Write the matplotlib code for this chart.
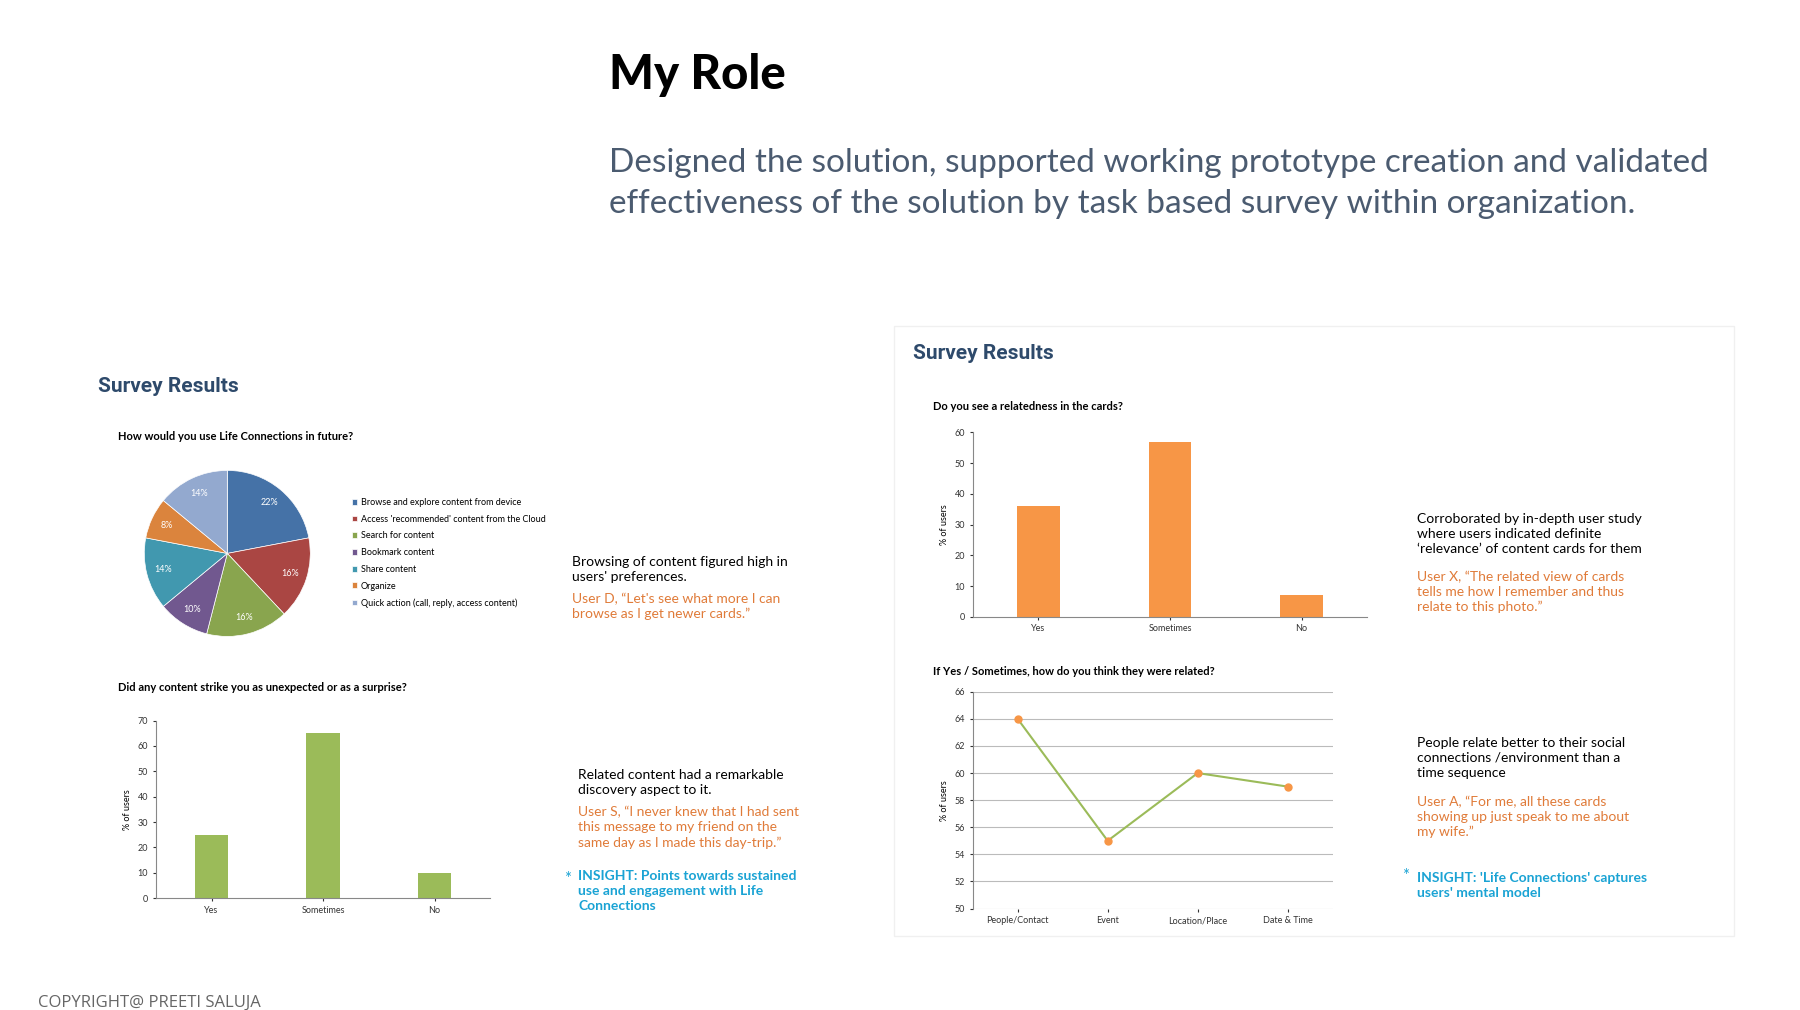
import matplotlib.pyplot as plt

W, H = 1560, 876  # reference layout units

pie_labels = ["Browse and explore content from device",
              "Access 'recommended' content from the Cloud",
              "Search for content", "Bookmark content", "Share content",
              "Organize", "Quick action (call, reply, access content)"]
pie_values = [22, 16, 16, 10, 14, 8, 14]
pie_colors = ["#4572a7", "#aa4643", "#89a54e", "#71588f", "#4198af", "#db843d", "#93a9cf"]

surprise_cats = ["Yes", "Sometimes", "No"]
surprise_vals = [25, 65, 10]

related_cats = ["Yes", "Sometimes", "No"]
related_vals = [36, 57, 7]

how_cats = ["People/Contact", "Event", "Location/Place", "Date & Time"]
how_vals = [64, 55, 60, 59]

plt.rcParams['font.family'] = ['Lato', 'DejaVu Sans']

fig = plt.figure(figsize=(18, 10.1), dpi=100)


def fx(x):
    return x / W


def fy(y):
    return 1 - y / H


def rect(x0, y0, x1, y1):
    return [fx(x0), fy(y1), fx(x1 - x0) , (y1 - y0) / H]


def txt(x, y, s, **kw):
    fig.text(fx(x), fy(y), s, **kw)


slate = "#4b5b70"
orange_t = "#e07b39"
cyan_t = "#1aa3d4"

txt(528, 65, "My Role", fontsize=34, fontweight='black', va='center')
txt(528, 141, "Designed the solution, supported working prototype creation and validated",
    fontsize=24, color=slate, va='center')
txt(528, 177, "effectiveness of the solution by task based survey within organization.",
    fontsize=24, color=slate, va='center')

# right panel faint frame
fig.patches.append(plt.Rectangle((fx(775), fy(812)), fx(728), 529 / H,
                                 transform=fig.transFigure, fill=False,
                                 edgecolor="#f0f0f0", lw=1))

txt(85, 335, "Survey Results", fontsize=15, fontweight='bold', color="#2e4a6b",
    va='center', family=['Roboto', 'DejaVu Sans'], fontstretch='condensed')
txt(791, 307, "Survey Results", fontsize=15, fontweight='bold', color="#2e4a6b",
    va='center', family=['Roboto', 'DejaVu Sans'])

# pie
txt(102, 379, "How would you use Life Connections in future?", fontsize=8, fontweight='bold', va='center')
ax = fig.add_axes(rect(105, 390, 289, 570))
wedges, _, autot = ax.pie(pie_values, colors=pie_colors, startangle=90, counterclock=False,
                          autopct='%d%%', pctdistance=0.8,
                          wedgeprops=dict(edgecolor='white', linewidth=0.5),
                          textprops=dict(color='white', fontsize=6.5))
ax.set_aspect('equal')
leg = fig.legend(wedges, pie_labels, loc='upper left', bbox_to_anchor=(fx(298), fy(425)),
                 frameon=False, fontsize=6.5, handlelength=0.6, handleheight=0.6,
                 handletextpad=0.4, labelspacing=0.85)

txt(496, 482, "Browsing of content figured high in\nusers' preferences.", fontsize=10, va='top', linespacing=1.3)
txt(496, 514, "User D, \u201cLet's see what more I can\nbrowse as I get newer cards.\u201d",
    fontsize=10, va='top', color=orange_t, linespacing=1.3)


def style(ax, ylab):
    for s in ['top', 'right']:
        ax.spines[s].set_visible(False)
    ax.spines['left'].set_color('#888888')
    ax.spines['bottom'].set_color('#888888')
    ax.tick_params(labelsize=6.5, length=2, colors='#333333')
    ax.set_ylabel(ylab, fontsize=6.5)


# surprise bars
txt(102, 596, "Did any content strike you as unexpected or as a surprise?", fontsize=8, fontweight='bold', va='center')
ax = fig.add_axes(rect(135, 625, 425, 779))
ax.bar(surprise_cats, surprise_vals, width=0.3, color="#9bbb59")
ax.set_ylim(0, 70)
ax.set_yticks(range(0, 71, 10))
ax.set_xlim(-0.5, 2.5)
style(ax, "% of users")

txt(501, 667, "Related content had a remarkable\ndiscovery aspect to it.", fontsize=10, va='top', linespacing=1.3)
txt(501, 699, "User S, \u201cI never knew that I had sent\nthis message to my friend on the\nsame day as I made this day-trip.\u201d",
    fontsize=10, va='top', color=orange_t, linespacing=1.3)
txt(489, 762, "*", fontsize=12, color=cyan_t, va='center')
txt(501, 762, "INSIGHT: Points towards sustained\nuse and engagement with Life\nConnections",
    fontsize=10, va='top', color=cyan_t, fontweight='bold', linespacing=1.3)
fig.texts[-1].set_y(fy(755))

# relatedness bars
txt(809, 353, "Do you see a relatedness in the cards?", fontsize=8, fontweight='bold', va='center')
ax = fig.add_axes(rect(843, 375, 1185, 535))
ax.bar(related_cats, related_vals, width=0.32, color="#f79646")
ax.set_ylim(0, 60)
ax.set_yticks(range(0, 61, 10))
ax.set_xlim(-0.5, 2.5)
style(ax, "% of users")

txt(1228, 445, "Corroborated by in-depth user study\nwhere users indicated definite\n\u2018relevance\u2019 of content cards for them",
    fontsize=10, va='top', linespacing=1.3)
txt(1228, 495, "User X, \u201cThe related view of cards\ntells me how I remember and thus\nrelate to this photo.\u201d",
    fontsize=10, va='top', color=orange_t, linespacing=1.3)

# line chart
txt(809, 582, "If Yes / Sometimes, how do you think they were related?", fontsize=8, fontweight='bold', va='center')
ax = fig.add_axes(rect(843, 600, 1155, 788))
ax.plot(how_cats, how_vals, color="#9bbb59", lw=1.5, marker='o', markersize=5,
        markerfacecolor="#f79646", markeredgecolor="#f79646")
ax.set_ylim(50, 66)
ax.set_yticks(range(50, 67, 2))
ax.set_xlim(-0.5, 3.5)
ax.grid(axis='y', color='#bbbbbb', lw=0.8)
ax.set_axisbelow(True)
style(ax, "% of users")
ax.spines['bottom'].set_visible(False)

txt(1228, 639, "People relate better to their social\nconnections /environment than a\ntime sequence",
    fontsize=10, va='top', linespacing=1.3)
txt(1228, 690, "User A, \u201cFor me, all these cards\nshowing up just speak to me about\nmy wife.\u201d",
    fontsize=10, va='top', color=orange_t, linespacing=1.3)
txt(1215, 760, "*", fontsize=12, color=cyan_t, va='center')
txt(1228, 756, "INSIGHT: 'Life Connections' captures\nusers' mental model",
    fontsize=10, va='top', color=cyan_t, fontweight='bold', linespacing=1.3)

txt(33, 870, "COPYRIGHT@ PREETI SALUJA", fontsize=12, color="#666666", va='center',
    family=['Open Sans', 'DejaVu Sans'])

fig.savefig("out.png", dpi=100, facecolor='white')
